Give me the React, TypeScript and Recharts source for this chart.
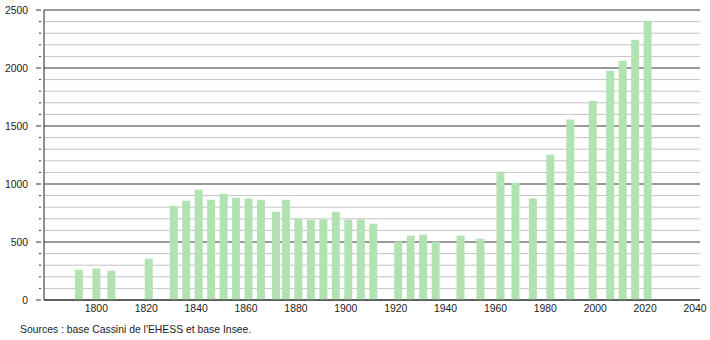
import { BarChart, Bar, XAxis, YAxis, CartesianGrid } from 'recharts';

const years = [
    1793, 1800, 1806, 1821, 1831, 1836, 1841, 1846, 1851, 1856, 1861, 1866, 1872, 1876, 1881, 1886,
    1891, 1896, 1901, 1906, 1911, 1921, 1926, 1931, 1936, 1946, 1954, 1962, 1968, 1975, 1982, 1990,
    1999, 2006, 2011, 2016, 2021,
];
const population = [
    261, 270, 253, 356, 813, 856, 951, 865, 917, 882, 874, 865, 761, 865, 701, 693,
    695, 761, 693, 695, 658, 503, 555, 563, 503, 555, 529, 1106, 1011, 874, 1253, 1555,
    1718, 1977, 2063, 2244, 2408,
];
const yearTicks = [1800, 1820, 1840, 1860, 1880, 1900, 1920, 1940, 1960, 1980, 2000, 2020, 2040];
const majorTicks = [0, 500, 1000, 1500, 2000, 2500];
const minorTicks = [
    100, 200, 300, 400, 600, 700, 800, 900, 1100, 1200, 1300, 1400, 1600, 1700, 1800, 1900,
    2100, 2200, 2300, 2400,
];
const allTicks = [...majorTicks, ...minorTicks].sort((a, b) => a - b);
const sourceText = "Sources : base Cassini de l'EHESS et base Insee.";

const data = years.map((year, i) => ({ year, population: population[i] }));

const FONT = '"Liberation Sans", Arial, sans-serif';
const FONT_SIZE = 10.4;

function YTick({ x, y, payload }: any) {
    const major = payload.value % 500 === 0;
    return (
        <g>
            <line x1={x + (major ? 0 : 3)} x2={x + 5} y1={y} y2={y} stroke="#333" strokeWidth={1} />
            {major && (
                <text x={x - 8} y={y} dy={4} textAnchor="end" fontSize={FONT_SIZE} fill="#222" fontFamily={FONT}>
                    {payload.value}
                </text>
            )}
        </g>
    );
}

export default function App() {
    return (
        <div style={{ position: 'absolute', left: 0, top: 0, width: 710, height: 340, background: '#fff' }}>
            <BarChart
                width={710}
                height={340}
                data={data}
                margin={{ top: 10, right: 10, left: 0, bottom: 20 }}
            >
                <CartesianGrid vertical={false} horizontalValues={minorTicks} stroke="#c4c4c4" />
                <CartesianGrid vertical={false} horizontalValues={majorTicks} stroke="#333" />
                <XAxis
                    dataKey="year"
                    type="number"
                    domain={[1779, 2042]}
                    ticks={yearTicks}
                    allowDataOverflow
                    height={20}
                    tickLine={false}
                    tickSize={0}
                    tickMargin={5}
                    axisLine={{ stroke: '#222' }}
                    tick={{ fontSize: FONT_SIZE, fill: '#222', fontFamily: FONT }}
                />
                <YAxis
                    type="number"
                    domain={[0, 2500]}
                    ticks={allTicks}
                    interval={0}
                    width={44}
                    tickLine={false}
                    axisLine={{ stroke: '#222' }}
                    tick={<YTick />}
                />
                <Bar dataKey="population" fill="#b2e2b2" barSize={8} isAnimationActive={false} />
            </BarChart>
            <div
                style={{
                    position: 'absolute',
                    left: 20,
                    top: 324,
                    fontSize: FONT_SIZE,
                    fontFamily: FONT,
                    color: '#222',
                    whiteSpace: 'nowrap',
                }}
            >
                {sourceText}
            </div>
        </div>
    );
}
